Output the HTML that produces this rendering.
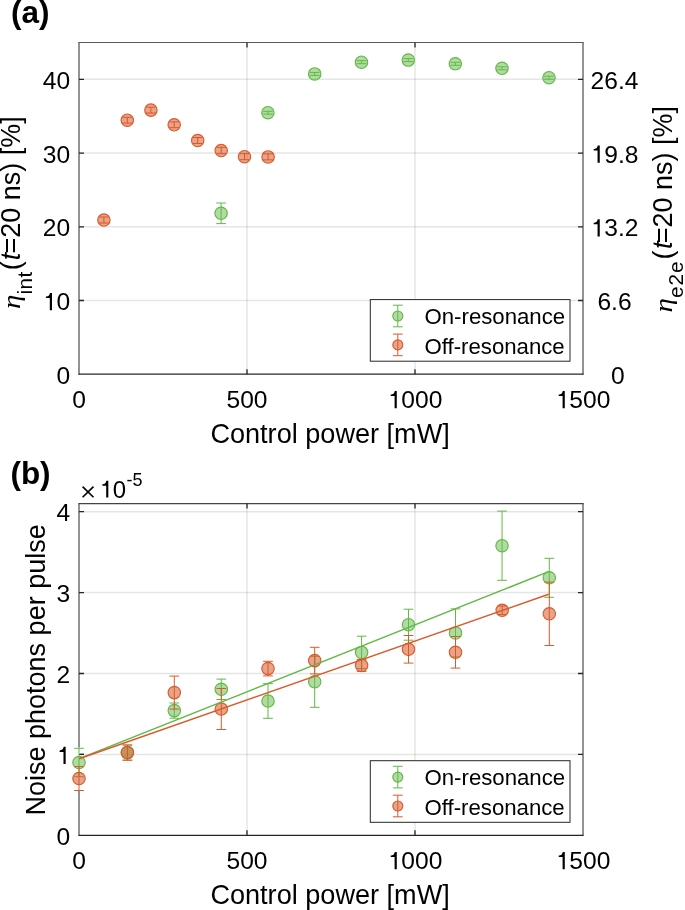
<!DOCTYPE html>
<html><head><meta charset="utf-8"><style>html,body{margin:0;padding:0;background:#fff;width:685px;height:910px;overflow:hidden}</style></head><body>
<svg width="685" height="910" viewBox="0 0 685 910" style="display:block;will-change:transform">
<rect width="685" height="910" fill="#fff"/>
<line x1="247.00" y1="42.5" x2="247.00" y2="374.2" stroke="rgba(0,0,0,0.10)" stroke-width="1.5"/><line x1="415.00" y1="42.5" x2="415.00" y2="374.2" stroke="rgba(0,0,0,0.10)" stroke-width="1.5"/><line x1="79.0" y1="300.49" x2="583.0" y2="300.49" stroke="rgba(0,0,0,0.10)" stroke-width="1.5"/><line x1="79.0" y1="226.78" x2="583.0" y2="226.78" stroke="rgba(0,0,0,0.10)" stroke-width="1.5"/><line x1="79.0" y1="153.07" x2="583.0" y2="153.07" stroke="rgba(0,0,0,0.10)" stroke-width="1.5"/><line x1="79.0" y1="79.36" x2="583.0" y2="79.36" stroke="rgba(0,0,0,0.10)" stroke-width="1.5"/>
<path d="M79.0 42.0V374.7M583.0 42.0V374.7" fill="none" stroke="#262626" stroke-width="1.0"/><path d="M78.5 374.2H583.5" fill="none" stroke="#262626" stroke-width="1.2"/><path d="M78.5 42.5H583.5" fill="none" stroke="#5a5a5a" stroke-width="1.2"/><path d="M247.00 374.2V369.2M247.00 42.5V47.5M415.00 374.2V369.2M415.00 42.5V47.5M79.0 300.49H84.0M583.0 300.49H578.0M79.0 226.78H84.0M583.0 226.78H578.0M79.0 153.07H84.0M583.0 153.07H578.0M79.0 79.36H84.0M583.0 79.36H578.0" stroke="#262626" stroke-width="1.3" fill="none"/>
<g><path d="M103.90 217.00V223.00" stroke="#d95a2b" stroke-width="1" fill="none"/><path d="M99.05 217.00H108.75M99.05 223.00H108.75" stroke="#d95a2b" stroke-width="1" fill="none"/><circle cx="103.90" cy="220.00" r="6.2" fill="rgba(215,88,40,0.55)" stroke="#d95a2b" stroke-width="1.15"/></g>
<g><path d="M127.30 117.30V123.10" stroke="#d95a2b" stroke-width="1" fill="none"/><path d="M122.45 117.30H132.15M122.45 123.10H132.15" stroke="#d95a2b" stroke-width="1" fill="none"/><circle cx="127.30" cy="120.20" r="6.2" fill="rgba(215,88,40,0.55)" stroke="#d95a2b" stroke-width="1.15"/></g>
<g><path d="M150.90 107.20V113.00" stroke="#d95a2b" stroke-width="1" fill="none"/><path d="M146.05 107.20H155.75M146.05 113.00H155.75" stroke="#d95a2b" stroke-width="1" fill="none"/><circle cx="150.90" cy="110.10" r="6.2" fill="rgba(215,88,40,0.55)" stroke="#d95a2b" stroke-width="1.15"/></g>
<g><path d="M174.20 121.90V127.70" stroke="#d95a2b" stroke-width="1" fill="none"/><path d="M169.35 121.90H179.05M169.35 127.70H179.05" stroke="#d95a2b" stroke-width="1" fill="none"/><circle cx="174.20" cy="124.80" r="6.2" fill="rgba(215,88,40,0.55)" stroke="#d95a2b" stroke-width="1.15"/></g>
<g><path d="M197.70 137.50V143.50" stroke="#d95a2b" stroke-width="1" fill="none"/><path d="M192.85 137.50H202.55M192.85 143.50H202.55" stroke="#d95a2b" stroke-width="1" fill="none"/><circle cx="197.70" cy="140.50" r="6.2" fill="rgba(215,88,40,0.55)" stroke="#d95a2b" stroke-width="1.15"/></g>
<g><path d="M221.20 147.30V153.70" stroke="#d95a2b" stroke-width="1" fill="none"/><path d="M216.35 147.30H226.05M216.35 153.70H226.05" stroke="#d95a2b" stroke-width="1" fill="none"/><circle cx="221.20" cy="150.50" r="6.2" fill="rgba(215,88,40,0.55)" stroke="#d95a2b" stroke-width="1.15"/></g>
<g><path d="M244.50 153.70V159.70" stroke="#d95a2b" stroke-width="1" fill="none"/><path d="M239.65 153.70H249.35M239.65 159.70H249.35" stroke="#d95a2b" stroke-width="1" fill="none"/><circle cx="244.50" cy="156.70" r="6.2" fill="rgba(215,88,40,0.55)" stroke="#d95a2b" stroke-width="1.15"/></g>
<g><path d="M268.10 153.90V159.90" stroke="#d95a2b" stroke-width="1" fill="none"/><path d="M263.25 153.90H272.95M263.25 159.90H272.95" stroke="#d95a2b" stroke-width="1" fill="none"/><circle cx="268.10" cy="156.90" r="6.2" fill="rgba(215,88,40,0.55)" stroke="#d95a2b" stroke-width="1.15"/></g>
<g><path d="M221.10 203.00V223.60" stroke="#62b845" stroke-width="1" fill="none"/><path d="M216.25 203.00H225.95M216.25 223.60H225.95" stroke="#62b845" stroke-width="1" fill="none"/><circle cx="221.10" cy="213.30" r="6.2" fill="rgba(98,184,69,0.5)" stroke="#62b845" stroke-width="1.15"/></g>
<g><path d="M267.90 111.30V114.10" stroke="#62b845" stroke-width="1" fill="none"/><path d="M263.05 111.30H272.75M263.05 114.10H272.75" stroke="#62b845" stroke-width="1" fill="none"/><circle cx="267.90" cy="112.70" r="6.2" fill="rgba(98,184,69,0.5)" stroke="#62b845" stroke-width="1.15"/></g>
<g><path d="M314.70 72.40V75.40" stroke="#62b845" stroke-width="1" fill="none"/><path d="M309.85 72.40H319.55M309.85 75.40H319.55" stroke="#62b845" stroke-width="1" fill="none"/><circle cx="314.70" cy="73.90" r="6.2" fill="rgba(98,184,69,0.5)" stroke="#62b845" stroke-width="1.15"/></g>
<g><path d="M361.50 60.70V63.70" stroke="#62b845" stroke-width="1" fill="none"/><path d="M356.65 60.70H366.35M356.65 63.70H366.35" stroke="#62b845" stroke-width="1" fill="none"/><circle cx="361.50" cy="62.20" r="6.2" fill="rgba(98,184,69,0.5)" stroke="#62b845" stroke-width="1.15"/></g>
<g><path d="M408.30 58.60V61.60" stroke="#62b845" stroke-width="1" fill="none"/><path d="M403.45 58.60H413.15M403.45 61.60H413.15" stroke="#62b845" stroke-width="1" fill="none"/><circle cx="408.30" cy="60.10" r="6.2" fill="rgba(98,184,69,0.5)" stroke="#62b845" stroke-width="1.15"/></g>
<g><path d="M455.30 62.30V65.30" stroke="#62b845" stroke-width="1" fill="none"/><path d="M450.45 62.30H460.15M450.45 65.30H460.15" stroke="#62b845" stroke-width="1" fill="none"/><circle cx="455.30" cy="63.80" r="6.2" fill="rgba(98,184,69,0.5)" stroke="#62b845" stroke-width="1.15"/></g>
<g><path d="M502.00 66.80V69.80" stroke="#62b845" stroke-width="1" fill="none"/><path d="M497.15 66.80H506.85M497.15 69.80H506.85" stroke="#62b845" stroke-width="1" fill="none"/><circle cx="502.00" cy="68.30" r="6.2" fill="rgba(98,184,69,0.5)" stroke="#62b845" stroke-width="1.15"/></g>
<g><path d="M549.00 76.20V79.20" stroke="#62b845" stroke-width="1" fill="none"/><path d="M544.15 76.20H553.85M544.15 79.20H553.85" stroke="#62b845" stroke-width="1" fill="none"/><circle cx="549.00" cy="77.70" r="6.2" fill="rgba(98,184,69,0.5)" stroke="#62b845" stroke-width="1.15"/></g>
<text x="56.519" y="383.900" font-family="Liberation Sans" font-size="24.6" fill="#000">0</text>
<path transform="translate(42.837,310.189) scale(24.6,-24.6)" d="M0.372 0L0.283 0L0.283 0.495L0.125 0.495L0.125 0.557C0.228 0.571 0.262 0.590 0.290 0.703L0.372 0.703Z" fill="#000"/><text x="56.519" y="310.189" font-family="Liberation Sans" font-size="24.6" fill="#000">0</text>
<text x="42.837 56.519" y="236.478" font-family="Liberation Sans" font-size="24.6" fill="#000">20</text>
<text x="42.837 56.519" y="162.767" font-family="Liberation Sans" font-size="24.6" fill="#000">30</text>
<text x="42.837 56.519" y="89.056" font-family="Liberation Sans" font-size="24.6" fill="#000">40</text>
<text x="611.104" y="383.900" font-family="Liberation Sans" font-size="24.6" fill="#000">0</text>
<text x="597.435 611.116 617.951" y="310.189" font-family="Liberation Sans" font-size="24.6" fill="#000">6.6</text>
<path transform="translate(590.600,236.478) scale(24.6,-24.6)" d="M0.372 0L0.283 0L0.283 0.495L0.125 0.495L0.125 0.557C0.228 0.571 0.262 0.590 0.290 0.703L0.372 0.703Z" fill="#000"/><text x="604.281 617.963 624.797" y="236.478" font-family="Liberation Sans" font-size="24.6" fill="#000">3.2</text>
<path transform="translate(590.600,162.767) scale(24.6,-24.6)" d="M0.372 0L0.283 0L0.283 0.495L0.125 0.495L0.125 0.557C0.228 0.571 0.262 0.590 0.290 0.703L0.372 0.703Z" fill="#000"/><text x="604.281 617.963 624.797" y="162.767" font-family="Liberation Sans" font-size="24.6" fill="#000">9.8</text>
<text x="590.600 604.281 617.963 624.797" y="89.056" font-family="Liberation Sans" font-size="24.6" fill="#000">26.4</text>
<text x="72.159" y="408.200" font-family="Liberation Sans" font-size="24.6" fill="#000">0</text><text x="226.478 240.159 253.841" y="408.200" font-family="Liberation Sans" font-size="24.6" fill="#000">500</text><path transform="translate(387.637,408.200) scale(24.6,-24.6)" d="M0.372 0L0.283 0L0.283 0.495L0.125 0.495L0.125 0.557C0.228 0.571 0.262 0.590 0.290 0.703L0.372 0.703Z" fill="#000"/><text x="401.319 415.000 428.681" y="408.200" font-family="Liberation Sans" font-size="24.6" fill="#000">000</text><path transform="translate(555.637,408.200) scale(24.6,-24.6)" d="M0.372 0L0.283 0L0.283 0.495L0.125 0.495L0.125 0.557C0.228 0.571 0.262 0.590 0.290 0.703L0.372 0.703Z" fill="#000"/><text x="569.319 583.000 596.681" y="408.200" font-family="Liberation Sans" font-size="24.6" fill="#000">500</text>
<text x="210.4" y="442.6" font-family="Liberation Sans" font-size="27.1" fill="#000">Control power [mW]</text>
<text transform="translate(19.80,308.90) rotate(-90) scale(1.18,1)" font-family="Liberation Serif" font-style="italic" font-size="24.5" fill="#000">&#951;</text><text transform="translate(32.40,294.40) rotate(-90)" font-family="Liberation Sans" font-size="20.8" letter-spacing="0.3" fill="#000">int</text><text transform="translate(19.90,270.15) rotate(-90)" font-family="Liberation Sans" font-size="27" fill="#000">(</text><text transform="translate(19.90,260.15) rotate(-90)" font-family="Liberation Sans" font-style="italic" font-size="27" fill="#000">t</text><text transform="translate(19.90,253.55) rotate(-90)" font-family="Liberation Sans" font-size="27" fill="#000">=20 ns) [%]</text>
<text transform="translate(671.70,312.60) rotate(-90) scale(1.18,1)" font-family="Liberation Serif" font-style="italic" font-size="24.5" fill="#000">&#951;</text><text transform="translate(683.30,298.10) rotate(-90)" font-family="Liberation Sans" font-size="20.8" letter-spacing="1.0" fill="#000">e2e</text><text transform="translate(671.80,259.55) rotate(-90)" font-family="Liberation Sans" font-size="27" fill="#000">(</text><text transform="translate(671.80,248.95) rotate(-90)" font-family="Liberation Sans" font-style="italic" font-size="27" fill="#000">t</text><text transform="translate(671.80,243.25) rotate(-90)" font-family="Liberation Sans" font-size="27" fill="#000">=20 ns) [%]</text>
<rect x="370.3" y="299.60" width="199.7" height="61.6" fill="#fff" stroke="#262626" stroke-width="1"/><g><path d="M397.80 305.20V326.80" stroke="#62b845" stroke-width="1" fill="none"/><path d="M392.90 305.20H402.70M392.90 326.80H402.70" stroke="#62b845" stroke-width="1" fill="none"/><circle cx="397.80" cy="316.00" r="5.0" fill="rgba(98,184,69,0.5)" stroke="#62b845" stroke-width="1.15"/></g><g><path d="M397.80 334.10V355.70" stroke="#d95a2b" stroke-width="1" fill="none"/><path d="M392.90 334.10H402.70M392.90 355.70H402.70" stroke="#d95a2b" stroke-width="1" fill="none"/><circle cx="397.80" cy="344.90" r="5.0" fill="rgba(215,88,40,0.55)" stroke="#d95a2b" stroke-width="1.15"/></g><text x="424.5" y="324.00" font-family="Liberation Sans" font-size="22.2" fill="#000">On-resonance</text><text x="424.5" y="353.50" font-family="Liberation Sans" font-size="22.2" fill="#000">Off-resonance</text>
<text x="10.9" y="22.9" font-family="Liberation Sans" font-weight="bold" font-size="31.5" fill="#000">(a)</text>
<line x1="247.00" y1="503.6" x2="247.00" y2="835.3" stroke="rgba(0,0,0,0.10)" stroke-width="1.5"/><line x1="415.00" y1="503.6" x2="415.00" y2="835.3" stroke="rgba(0,0,0,0.10)" stroke-width="1.5"/><line x1="79.0" y1="754.40" x2="583.0" y2="754.40" stroke="rgba(0,0,0,0.10)" stroke-width="1.5"/><line x1="79.0" y1="673.50" x2="583.0" y2="673.50" stroke="rgba(0,0,0,0.10)" stroke-width="1.5"/><line x1="79.0" y1="592.59" x2="583.0" y2="592.59" stroke="rgba(0,0,0,0.10)" stroke-width="1.5"/><line x1="79.0" y1="511.69" x2="583.0" y2="511.69" stroke="rgba(0,0,0,0.10)" stroke-width="1.5"/>
<path d="M79.0 503.1V835.8M583.0 503.1V835.8" fill="none" stroke="#262626" stroke-width="1.0"/><path d="M78.5 835.3H583.5" fill="none" stroke="#262626" stroke-width="1.2"/><path d="M78.5 503.6H583.5" fill="none" stroke="#444" stroke-width="1.2"/><path d="M247.00 835.3V830.3M247.00 503.6V508.6M415.00 835.3V830.3M415.00 503.6V508.6M79.0 754.40H84.0M583.0 754.40H578.0M79.0 673.50H84.0M583.0 673.50H578.0M79.0 592.59H84.0M583.0 592.59H578.0M79.0 511.69H84.0M583.0 511.69H578.0" stroke="#262626" stroke-width="1.3" fill="none"/>
<rect x="77.6" y="747.6" width="2.8" height="43.2" fill="#fff"/>
<path d="M79.0 754.40H84.0" stroke="#262626" stroke-width="1.3"/>
<g><path d="M79.00 748.30V776.70" stroke="#62b845" stroke-width="1" fill="none"/><path d="M74.15 748.30H83.85M74.15 776.70H83.85" stroke="#62b845" stroke-width="1" fill="none"/><circle cx="79.00" cy="762.50" r="6.2" fill="rgba(98,184,69,0.5)" stroke="#62b845" stroke-width="1.15"/></g>
<g><path d="M127.40 745.00V760.20" stroke="#62b845" stroke-width="1" fill="none"/><path d="M122.55 745.00H132.25M122.55 760.20H132.25" stroke="#62b845" stroke-width="1" fill="none"/><circle cx="127.40" cy="752.60" r="6.2" fill="rgba(98,184,69,0.5)" stroke="#62b845" stroke-width="1.15"/></g>
<g><path d="M174.30 703.00V718.20" stroke="#62b845" stroke-width="1" fill="none"/><path d="M169.45 703.00H179.15M169.45 718.20H179.15" stroke="#62b845" stroke-width="1" fill="none"/><circle cx="174.30" cy="710.60" r="6.2" fill="rgba(98,184,69,0.5)" stroke="#62b845" stroke-width="1.15"/></g>
<g><path d="M221.30 679.10V699.50" stroke="#62b845" stroke-width="1" fill="none"/><path d="M216.45 679.10H226.15M216.45 699.50H226.15" stroke="#62b845" stroke-width="1" fill="none"/><circle cx="221.30" cy="689.30" r="6.2" fill="rgba(98,184,69,0.5)" stroke="#62b845" stroke-width="1.15"/></g>
<g><path d="M268.00 683.70V718.30" stroke="#62b845" stroke-width="1" fill="none"/><path d="M263.15 683.70H272.85M263.15 718.30H272.85" stroke="#62b845" stroke-width="1" fill="none"/><circle cx="268.00" cy="701.00" r="6.2" fill="rgba(98,184,69,0.5)" stroke="#62b845" stroke-width="1.15"/></g>
<g><path d="M314.70 656.30V707.30" stroke="#62b845" stroke-width="1" fill="none"/><path d="M309.85 656.30H319.55M309.85 707.30H319.55" stroke="#62b845" stroke-width="1" fill="none"/><circle cx="314.70" cy="681.80" r="6.2" fill="rgba(98,184,69,0.5)" stroke="#62b845" stroke-width="1.15"/></g>
<g><path d="M361.60 636.20V668.60" stroke="#62b845" stroke-width="1" fill="none"/><path d="M356.75 636.20H366.45M356.75 668.60H366.45" stroke="#62b845" stroke-width="1" fill="none"/><circle cx="361.60" cy="652.40" r="6.2" fill="rgba(98,184,69,0.5)" stroke="#62b845" stroke-width="1.15"/></g>
<g><path d="M408.50 609.20V640.20" stroke="#62b845" stroke-width="1" fill="none"/><path d="M403.65 609.20H413.35M403.65 640.20H413.35" stroke="#62b845" stroke-width="1" fill="none"/><circle cx="408.50" cy="624.70" r="6.2" fill="rgba(98,184,69,0.5)" stroke="#62b845" stroke-width="1.15"/></g>
<g><path d="M455.50 608.90V656.90" stroke="#62b845" stroke-width="1" fill="none"/><path d="M450.65 608.90H460.35M450.65 656.90H460.35" stroke="#62b845" stroke-width="1" fill="none"/><circle cx="455.50" cy="632.90" r="6.2" fill="rgba(98,184,69,0.5)" stroke="#62b845" stroke-width="1.15"/></g>
<g><path d="M502.05 511.10V580.30" stroke="#62b845" stroke-width="1" fill="none"/><path d="M497.20 511.10H506.90M497.20 580.30H506.90" stroke="#62b845" stroke-width="1" fill="none"/><circle cx="502.05" cy="545.70" r="6.2" fill="rgba(98,184,69,0.5)" stroke="#62b845" stroke-width="1.15"/></g>
<g><path d="M549.30 558.30V597.30" stroke="#62b845" stroke-width="1" fill="none"/><path d="M544.45 558.30H554.15M544.45 597.30H554.15" stroke="#62b845" stroke-width="1" fill="none"/><circle cx="549.30" cy="577.80" r="6.2" fill="rgba(98,184,69,0.5)" stroke="#62b845" stroke-width="1.15"/></g>
<g><path d="M79.00 766.50V790.50" stroke="#d95a2b" stroke-width="1" fill="none"/><path d="M74.15 766.50H83.85M74.15 790.50H83.85" stroke="#d95a2b" stroke-width="1" fill="none"/><circle cx="79.00" cy="778.50" r="6.2" fill="rgba(215,88,40,0.55)" stroke="#d95a2b" stroke-width="1.15"/></g>
<g><path d="M127.40 745.00V760.20" stroke="#d95a2b" stroke-width="1" fill="none"/><path d="M122.55 745.00H132.25M122.55 760.20H132.25" stroke="#d95a2b" stroke-width="1" fill="none"/><circle cx="127.40" cy="752.60" r="6.2" fill="rgba(215,88,40,0.55)" stroke="#d95a2b" stroke-width="1.15"/></g>
<g><path d="M174.30 676.10V709.10" stroke="#d95a2b" stroke-width="1" fill="none"/><path d="M169.45 676.10H179.15M169.45 709.10H179.15" stroke="#d95a2b" stroke-width="1" fill="none"/><circle cx="174.30" cy="692.60" r="6.2" fill="rgba(215,88,40,0.55)" stroke="#d95a2b" stroke-width="1.15"/></g>
<g><path d="M221.30 688.50V729.50" stroke="#d95a2b" stroke-width="1" fill="none"/><path d="M216.45 688.50H226.15M216.45 729.50H226.15" stroke="#d95a2b" stroke-width="1" fill="none"/><circle cx="221.30" cy="709.00" r="6.2" fill="rgba(215,88,40,0.55)" stroke="#d95a2b" stroke-width="1.15"/></g>
<g><path d="M268.00 661.30V675.90" stroke="#d95a2b" stroke-width="1" fill="none"/><path d="M263.15 661.30H272.85M263.15 675.90H272.85" stroke="#d95a2b" stroke-width="1" fill="none"/><circle cx="268.00" cy="668.60" r="6.2" fill="rgba(215,88,40,0.55)" stroke="#d95a2b" stroke-width="1.15"/></g>
<g><path d="M314.70 647.30V673.90" stroke="#d95a2b" stroke-width="1" fill="none"/><path d="M309.85 647.30H319.55M309.85 673.90H319.55" stroke="#d95a2b" stroke-width="1" fill="none"/><circle cx="314.70" cy="660.60" r="6.2" fill="rgba(215,88,40,0.55)" stroke="#d95a2b" stroke-width="1.15"/></g>
<g><path d="M361.60 659.40V671.40" stroke="#d95a2b" stroke-width="1" fill="none"/><path d="M356.75 659.40H366.45M356.75 671.40H366.45" stroke="#d95a2b" stroke-width="1" fill="none"/><circle cx="361.60" cy="665.40" r="6.2" fill="rgba(215,88,40,0.55)" stroke="#d95a2b" stroke-width="1.15"/></g>
<g><path d="M408.50 635.50V663.10" stroke="#d95a2b" stroke-width="1" fill="none"/><path d="M403.65 635.50H413.35M403.65 663.10H413.35" stroke="#d95a2b" stroke-width="1" fill="none"/><circle cx="408.50" cy="649.30" r="6.2" fill="rgba(215,88,40,0.55)" stroke="#d95a2b" stroke-width="1.15"/></g>
<g><path d="M455.50 636.50V668.10" stroke="#d95a2b" stroke-width="1" fill="none"/><path d="M450.65 636.50H460.35M450.65 668.10H460.35" stroke="#d95a2b" stroke-width="1" fill="none"/><circle cx="455.50" cy="652.30" r="6.2" fill="rgba(215,88,40,0.55)" stroke="#d95a2b" stroke-width="1.15"/></g>
<g><path d="M502.20 606.00V614.60" stroke="#d95a2b" stroke-width="1" fill="none"/><path d="M497.35 606.00H507.05M497.35 614.60H507.05" stroke="#d95a2b" stroke-width="1" fill="none"/><circle cx="502.20" cy="610.30" r="6.2" fill="rgba(215,88,40,0.55)" stroke="#d95a2b" stroke-width="1.15"/></g>
<g><path d="M549.30 582.10V645.50" stroke="#d95a2b" stroke-width="1" fill="none"/><path d="M544.45 582.10H554.15M544.45 645.50H554.15" stroke="#d95a2b" stroke-width="1" fill="none"/><circle cx="549.30" cy="613.80" r="6.2" fill="rgba(215,88,40,0.55)" stroke="#d95a2b" stroke-width="1.15"/></g>
<line x1="79.2" y1="758.7" x2="548.6" y2="571.7" stroke="#62b845" stroke-width="1.45"/>
<line x1="79.2" y1="758.7" x2="548.6" y2="594.3" stroke="#d95a2b" stroke-width="1.45"/>
<text x="56.519" y="845.000" font-family="Liberation Sans" font-size="24.6" fill="#000">0</text>
<path transform="translate(56.519,764.098) scale(24.6,-24.6)" d="M0.372 0L0.283 0L0.283 0.495L0.125 0.495L0.125 0.557C0.228 0.571 0.262 0.590 0.290 0.703L0.372 0.703Z" fill="#000"/>
<text x="56.519" y="683.195" font-family="Liberation Sans" font-size="24.6" fill="#000">2</text>
<text x="56.519" y="602.293" font-family="Liberation Sans" font-size="24.6" fill="#000">3</text>
<text x="56.519" y="521.390" font-family="Liberation Sans" font-size="24.6" fill="#000">4</text>
<text x="72.159" y="869.300" font-family="Liberation Sans" font-size="24.6" fill="#000">0</text><text x="226.478 240.159 253.841" y="869.300" font-family="Liberation Sans" font-size="24.6" fill="#000">500</text><path transform="translate(387.637,869.300) scale(24.6,-24.6)" d="M0.372 0L0.283 0L0.283 0.495L0.125 0.495L0.125 0.557C0.228 0.571 0.262 0.590 0.290 0.703L0.372 0.703Z" fill="#000"/><text x="401.319 415.000 428.681" y="869.300" font-family="Liberation Sans" font-size="24.6" fill="#000">000</text><path transform="translate(555.637,869.300) scale(24.6,-24.6)" d="M0.372 0L0.283 0L0.283 0.495L0.125 0.495L0.125 0.557C0.228 0.571 0.262 0.590 0.290 0.703L0.372 0.703Z" fill="#000"/><text x="569.319 583.000 596.681" y="869.300" font-family="Liberation Sans" font-size="24.6" fill="#000">500</text>
<text x="210.4" y="903.70" font-family="Liberation Sans" font-size="27.1" fill="#000">Control power [mW]</text>
<text transform="translate(44.70,815.50) rotate(-90)" font-family="Liberation Sans" font-size="27" fill="#000">Noise photons per pulse</text>
<path d="M82.6 486.6L93.5 497.2M93.5 486.6L82.6 497.2" stroke="#000" stroke-width="1.6" fill="none"/>
<path transform="translate(99.400,497.600) scale(24,-24)" d="M0.372 0L0.283 0L0.283 0.495L0.125 0.495L0.125 0.557C0.228 0.571 0.262 0.590 0.290 0.703L0.372 0.703Z" fill="#000"/><text x="112.748" y="497.600" font-family="Liberation Sans" font-size="24" fill="#000">0</text>
<text x="126.55" y="485.9" font-family="Liberation Sans" font-size="18" fill="#000">-5</text>
<rect x="370.3" y="760.70" width="199.7" height="61.6" fill="#fff" stroke="#262626" stroke-width="1"/><g><path d="M397.80 766.30V787.90" stroke="#62b845" stroke-width="1" fill="none"/><path d="M392.90 766.30H402.70M392.90 787.90H402.70" stroke="#62b845" stroke-width="1" fill="none"/><circle cx="397.80" cy="777.10" r="5.0" fill="rgba(98,184,69,0.5)" stroke="#62b845" stroke-width="1.15"/></g><g><path d="M397.80 795.20V816.80" stroke="#d95a2b" stroke-width="1" fill="none"/><path d="M392.90 795.20H402.70M392.90 816.80H402.70" stroke="#d95a2b" stroke-width="1" fill="none"/><circle cx="397.80" cy="806.00" r="5.0" fill="rgba(215,88,40,0.55)" stroke="#d95a2b" stroke-width="1.15"/></g><text x="424.5" y="785.10" font-family="Liberation Sans" font-size="22.2" fill="#000">On-resonance</text><text x="424.5" y="814.60" font-family="Liberation Sans" font-size="22.2" fill="#000">Off-resonance</text>
<text x="10.4" y="484" font-family="Liberation Sans" font-weight="bold" font-size="31.5" fill="#000">(b)</text>
</svg>
</body></html>
